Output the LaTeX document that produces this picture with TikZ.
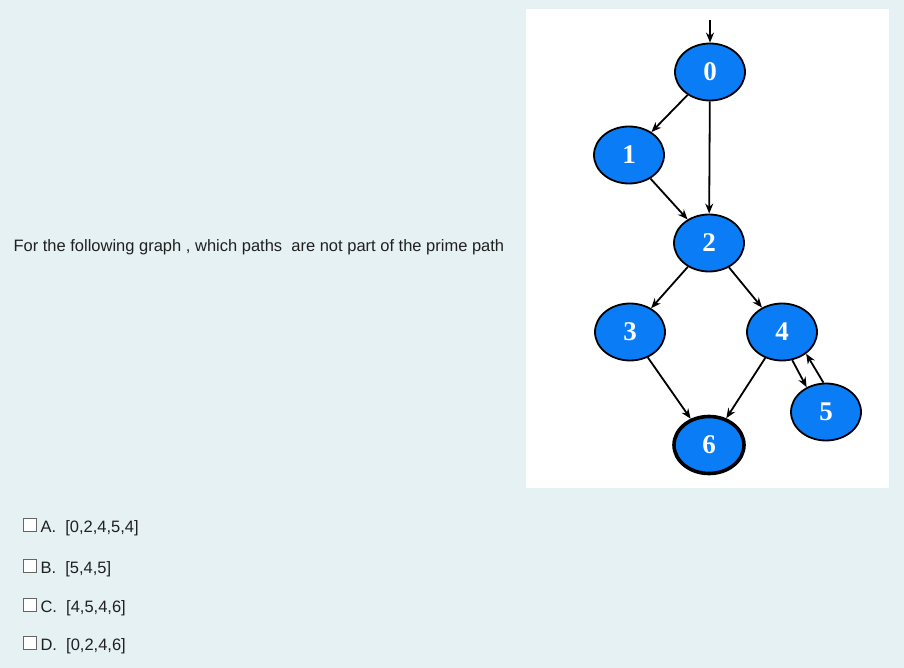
\documentclass[tikz,border=0pt]{standalone}
\usepackage{fontspec}
\setmainfont{Liberation Sans}
\newfontfamily\serifb{Liberation Serif}
\usetikzlibrary{arrows.meta,shapes.geometric}
\definecolor{bg}{HTML}{E6F1F4}
\definecolor{nodeblue}{HTML}{0A7CF5}
\definecolor{txt}{HTML}{202020}
\begin{document}
\begin{tikzpicture}[x=1pt,y=-1pt,
  v/.style={ellipse,draw=black,line width=1.8pt,fill=nodeblue,minimum width=70pt,minimum height=57pt,inner sep=0pt,text=white,font=\serifb\bfseries\fontsize{27}{27}\selectfont},
  e/.style={-{Stealth[length=10pt,width=8pt]},line width=1.8pt},
  box/.style={draw=gray!80!black,fill=white,minimum size=13pt,inner sep=0pt,line width=0.9pt},
  opt/.style={anchor=west,text=txt,font=\fontsize{16.5}{18}\selectfont}]
\useasboundingbox (0,0) rectangle (904,668);
\fill[bg] (0,0) rectangle (904,668);
\fill[white] (526,9) rectangle (889,488);
\node[v] (n0) at (710,72) {0};
\node[v] (n1) at (629,155) {1};
\node[v] (n2) at (709,243) {2};
\node[v] (n3) at (630,332) {3};
\node[v] (n4) at (782,332) {4};
\node[v] (n5) at (826,412) {5};
\node[v,line width=3.6pt] (n6) at (709,445) {6};
\coordinate (s) at (710,20);
\draw[e] (s) -- (n0);
\draw[e] (n0) -- (n1);
\draw[e] (n0) -- (n2);
\draw[e] (n1) -- (n2);
\draw[e] (n2) -- (n3);
\draw[e] (n2) -- (n4);
\draw[e] (n3) -- (n6);
\draw[e] (n4) -- (n6);
\draw[e] (n4.-70) -- (n5.128);
\draw[e] (n5.95) -- (n4.-42);
\node[opt] (q) at (10,247) {For the following graph , which paths\ \ are not part of the prime path};
\node[box] (ba) at (30,525) {};
\node[opt] (la) at (37,528) {A.\ \ [0,2,4,5,4]};
\node[box] (bb) at (30,566) {};
\node[opt] (lb) at (37,569) {B.\ \ [5,4,5]};
\node[box] (bc) at (30,605) {};
\node[opt] (lc) at (37,608) {C.\ \ [4,5,4,6]};
\node[box] (bd) at (30,643) {};
\node[opt] (ld) at (37,646) {D.\ \ [0,2,4,6]};
\end{tikzpicture}
\end{document}
